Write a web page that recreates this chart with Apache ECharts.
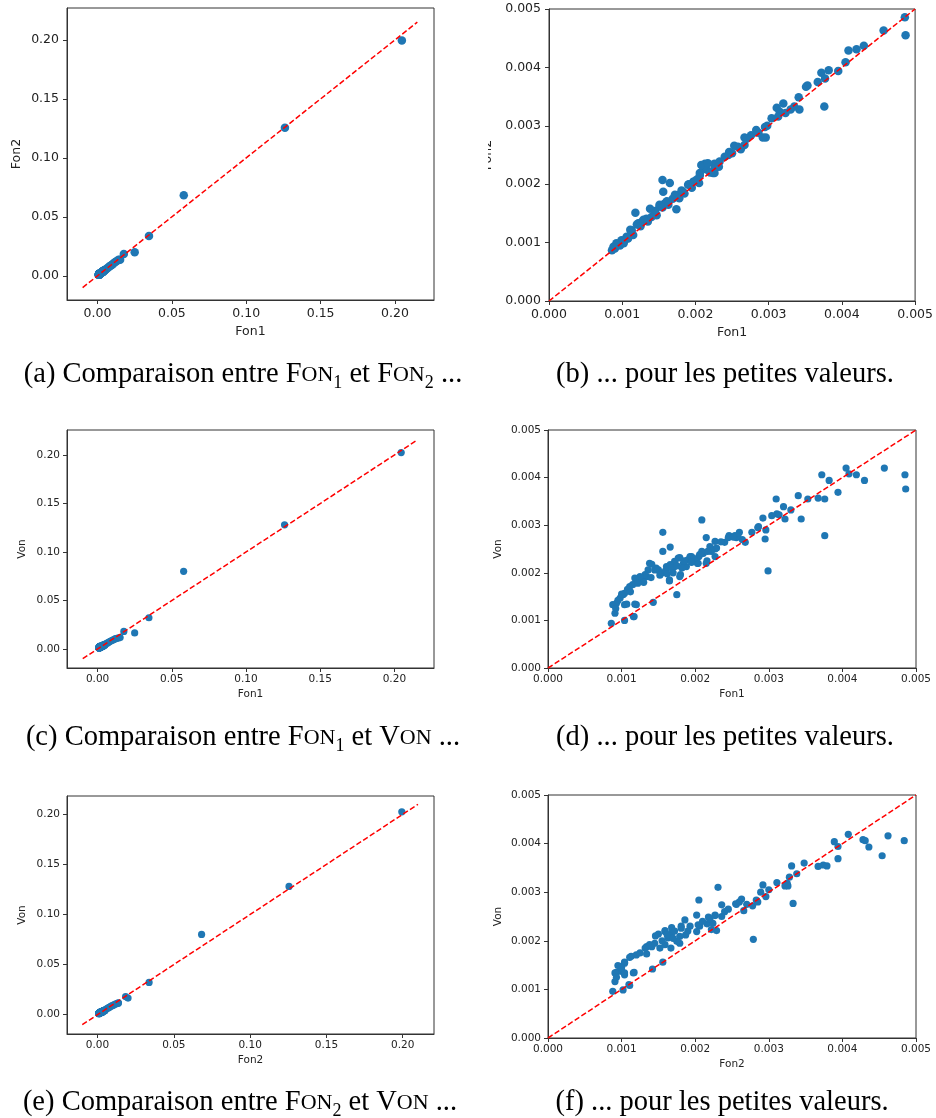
<!DOCTYPE html>
<html><head><meta charset="utf-8">
<script src="https://cdn.jsdelivr.net/npm/echarts@6/dist/echarts.min.js"></script>
<style>html,body{margin:0;padding:0;background:#fff}#c{width:936px;height:1118px}</style>
</head><body><div id="c"></div>
<script>
// ---- data ----
// large values: one entry per item, Fon1 / Fon2 / Von
const fon1Large = [0.2046,0.1260,0.0580,0.0346,0.0250,0.0177,0.0152,0.0142,0.0130,0.0120,0.0110,0.0102,0.0093,0.0085,0.0078,0.0070,0.0062,0.0055];
const fon2Large = [0.1994,0.1255,0.0682,0.0338,0.0200,0.0184,0.0137,0.0136,0.0126,0.0117,0.0108,0.0099,0.0090,0.0083,0.0076,0.0068,0.0060,0.0054];
const vonLarge  = [0.2025,0.1280,0.0801,0.0322,0.0166,0.0181,0.0118,0.0115,0.0110,0.0106,0.0098,0.0092,0.0085,0.0079,0.0072,0.0065,0.0059,0.0053];

// small values (panels b, d, f), pairs [x, y]
const smallFon1Fon2 = [
[0.00486,0.00486],[0.00487,0.00455],[0.00457,0.00463],[0.00430,0.00437],[0.00420,0.00431],[0.00409,0.00429],[0.00405,0.00409],[0.00395,0.00394],[0.00382,0.00395],[0.00372,0.00391],[0.00377,0.00381],[0.00367,0.00375],[0.00376,0.00333],[0.00353,0.00369],[0.00351,0.00367],[0.00341,0.00349],[0.00342,0.00328],[0.00330,0.00328],[0.00320,0.00338],[0.00311,0.00331],[0.00315,0.00324],[0.00323,0.00322],[0.00304,0.00313],[0.00295,0.00298],[0.00296,0.00280],[0.00292,0.00280],[0.00283,0.00293],[0.00276,0.00284],[0.00267,0.00280],[0.00267,0.00267],[0.00258,0.00264],[0.00253,0.00266],[0.00246,0.00255],[0.00240,0.00247],[0.00226,0.00235],[0.00226,0.00219],[0.00213,0.00235],[0.00210,0.00231],[0.00215,0.00225],[0.00206,0.00215],[0.00205,0.00202],[0.00197,0.00204],[0.00191,0.00200],[0.00183,0.00187],[0.00176,0.00181],[0.00174,0.00157],[0.00169,0.00175],[0.00165,0.00202],[0.00155,0.00207],[0.00156,0.00187],[0.00158,0.00167],[0.00151,0.00162],[0.00145,0.00154],[0.00138,0.00158],[0.00147,0.00147],[0.00133,0.00141],[0.00126,0.00135],[0.00122,0.00133],[0.00118,0.00151],[0.00113,0.00121],[0.00115,0.00113],[0.00106,0.00110],[0.00099,0.00104],[0.00092,0.00099],[0.00088,0.00093],[0.00086,0.00087],[0.00097,0.00095],[0.00104,0.00105],
[0.00111,0.00122],[0.00120,0.00131],[0.00129,0.00139],[0.00145,0.00150],[0.00151,0.00165],[0.00161,0.00171],[0.00172,0.00182],[0.00181,0.00189],[0.00190,0.00199],[0.00199,0.00205],[0.00206,0.00219],[0.00208,0.00233],[0.00217,0.00236],[0.00224,0.00219],[0.00226,0.00227],[0.00233,0.00239],[0.00245,0.00250],[0.00100,0.00102],[0.00095,0.00098],[0.00090,0.00090],[0.00108,0.00107],[0.00112,0.00114],[0.00125,0.00128],[0.00135,0.00136],[0.00140,0.00144],[0.00155,0.00160],[0.00163,0.00165],[0.00178,0.00176],[0.00185,0.00184],[0.00195,0.00194],[0.00202,0.00208],[0.00220,0.00220],[0.00232,0.00230],[0.00250,0.00253],[0.00262,0.00260],[0.00270,0.00278],[0.00286,0.00288],[0.00298,0.00300],[0.00313,0.00316],[0.00335,0.00333],[0.00093,0.00096],[0.00102,0.00099]
];
const smallFon1Von = [
[0.00457,0.00420],[0.00485,0.00406],[0.00486,0.00376],[0.00405,0.00420],[0.00409,0.00408],[0.00419,0.00406],[0.00430,0.00394],[0.00394,0.00369],[0.00382,0.00394],[0.00372,0.00406],[0.00376,0.00355],[0.00367,0.00357],[0.00376,0.00278],[0.00353,0.00355],[0.00340,0.00362],[0.00344,0.00313],[0.00330,0.00332],[0.00320,0.00339],[0.00322,0.00313],[0.00310,0.00355],[0.00311,0.00324],[0.00304,0.00320],[0.00292,0.00315],[0.00296,0.00290],[0.00295,0.00271],[0.00299,0.00204],[0.00286,0.00297],[0.00277,0.00285],[0.00268,0.00264],[0.00260,0.00285],[0.00256,0.00274],[0.00246,0.00278],[0.00240,0.00264],[0.00227,0.00266],[0.00227,0.00250],[0.00215,0.00274],[0.00209,0.00311],[0.00215,0.00220],[0.00220,0.00255],[0.00211,0.00241],[0.00205,0.00234],[0.00203,0.00220],[0.00193,0.00234],[0.00190,0.00227],[0.00184,0.00220],[0.00177,0.00231],[0.00180,0.00196],[0.00175,0.00154],[0.00172,0.00213],[0.00166,0.00254],[0.00165,0.00185],[0.00156,0.00245],[0.00156,0.00285],[0.00161,0.00213],[0.00150,0.00206],[0.00145,0.00206],[0.00138,0.00220],[0.00143,0.00138],[0.00134,0.00192],[0.00127,0.00187],[0.00120,0.00185],[0.00120,0.00133],[0.00116,0.00108],[0.00111,0.00171],[0.00104,0.00133],[0.00104,0.00100],[0.00102,0.00154],[0.00093,0.00136],[0.00091,0.00115],[0.00088,0.00133],[0.00086,0.00094],[0.00098,0.00147],
[0.00245,0.00274],[0.00254,0.00278],[0.00229,0.00252],[0.00209,0.00245],[0.00195,0.00234],[0.00179,0.00232],[0.00172,0.00224],[0.00166,0.00217],[0.00147,0.00210],[0.00141,0.00218],[0.00136,0.00206],[0.00132,0.00196],[0.00125,0.00192],[0.00118,0.00189],[0.00104,0.00157],[0.00107,0.00134],[0.00118,0.00134],[0.00117,0.00108],[0.00165,0.00183],[0.00179,0.00192],[0.00188,0.00213],[0.00204,0.00220],[0.00216,0.00225],[0.00227,0.00234],[0.00206,0.00238],
[0.00155,0.00200],[0.00160,0.00205],[0.00168,0.00210],[0.00170,0.00200],[0.00175,0.00215],[0.00162,0.00198],[0.00152,0.00195],[0.00130,0.00180],[0.00115,0.00175],[0.00108,0.00165],[0.00100,0.00155],[0.00095,0.00142],[0.00092,0.00125],[0.00112,0.00160],[0.00122,0.00178],[0.00140,0.00190],[0.00185,0.00225],[0.00198,0.00230],[0.00222,0.00245],[0.00235,0.00265],[0.00264,0.00270],[0.00258,0.00278],[0.00252,0.00275],[0.00285,0.00295],[0.00314,0.00322],[0.00217,0.00245],[0.00195,0.00222],[0.00182,0.00210]
];
const smallFon2Von = [
[0.00484,0.00406],[0.00462,0.00416],[0.00454,0.00375],[0.00436,0.00393],[0.00428,0.00408],[0.00431,0.00406],[0.00408,0.00419],[0.00394,0.00394],[0.00394,0.00369],[0.00389,0.00404],[0.00379,0.00354],[0.00374,0.00356],[0.00367,0.00353],[0.00348,0.00360],[0.00338,0.00338],[0.00331,0.00354],[0.00328,0.00331],[0.00333,0.00277],[0.00326,0.00313],[0.00322,0.00313],[0.00311,0.00320],[0.00292,0.00315],[0.00289,0.00300],[0.00296,0.00291],[0.00279,0.00203],[0.00278,0.00272],[0.00283,0.00284],[0.00266,0.00262],[0.00263,0.00286],[0.00255,0.00276],[0.00245,0.00265],[0.00236,0.00274],[0.00231,0.00310],[0.00236,0.00250],[0.00229,0.00221],[0.00227,0.00253],[0.00218,0.00249],[0.00216,0.00235],[0.00222,0.00223],[0.00205,0.00284],[0.00202,0.00253],[0.00206,0.00230],[0.00202,0.00219],[0.00193,0.00230],[0.00186,0.00243],[0.00187,0.00212],[0.00179,0.00195],[0.00181,0.00230],[0.00168,0.00216],[0.00167,0.00185],[0.00159,0.00219],[0.00156,0.00156],[0.00146,0.00210],[0.00152,0.00185],[0.00141,0.00188],[0.00142,0.00142],[0.00134,0.00188],[0.00134,0.00173],[0.00120,0.00171],[0.00113,0.00168],[0.00117,0.00135],[0.00110,0.00110],[0.00102,0.00099],[0.00104,0.00156],[0.00100,0.00137],[0.00093,0.00135],[0.00091,0.00116],[0.00088,0.00096],[0.00098,0.00147],[0.00104,0.00130],
[0.00256,0.00275],[0.00227,0.00252],[0.00224,0.00236],[0.00204,0.00233],[0.00181,0.00226],[0.00168,0.00227],[0.00159,0.00221],[0.00163,0.00206],[0.00179,0.00209],[0.00175,0.00199],[0.00159,0.00192],[0.00138,0.00192],[0.00132,0.00185],[0.00111,0.00166],[0.00104,0.00154],[0.00095,0.00149],[0.00091,0.00134],[0.00111,0.00108],[0.00116,0.00134],[0.00104,0.00134],[0.00150,0.00214],
[0.00145,0.00195],[0.00155,0.00200],[0.00170,0.00205],[0.00125,0.00175],[0.00100,0.00145],[0.00093,0.00125],[0.00190,0.00220],[0.00210,0.00240],[0.00220,0.00245],[0.00240,0.00260],[0.00260,0.00280],[0.00270,0.00275],[0.00285,0.00280],[0.00300,0.00305],[0.00325,0.00318],[0.00172,0.00220],[0.00162,0.00212]
];

// reference line y = x endpoints
const diagAC = [-0.01, 0.215];
const diagE  = [-0.01, 0.21];
const diagSmall = [0, 0.005];

const ticksLarge = [0, 0.05, 0.10, 0.15, 0.20];
const ticksSmall = [0, 0.001, 0.002, 0.003, 0.004, 0.005];

// ---- helpers ----
const zip = (a, b) => a.map((v, i) => [v, b[i]]);
const dataA = zip(fon1Large, fon2Large).concat(smallFon1Fon2);
const dataC = zip(fon1Large, vonLarge).concat(smallFon1Von);
const dataE = zip(fon2Large, vonLarge).concat(smallFon2Von);

const AX = '#333';
function mkAxis(gi, min, max, ticks, dec, name, gap, fs, margin) {
  return {
    type: 'value', gridIndex: gi, min: min, max: max,
    axisLine: { show: true, onZero: false, lineStyle: { color: AX, width: 1 } },
    axisTick: { show: true, length: 4, lineStyle: { color: AX }, customValues: ticks },
    axisLabel: { customValues: ticks, formatter: v => v.toFixed(dec), fontSize: fs, color: '#222',
                 fontFamily: 'DejaVu Sans', margin: margin, showMinLabel: true, showMaxLabel: true },
    splitLine: { show: false },
    name: name, nameLocation: 'middle', nameGap: gap,
    nameTextStyle: { fontSize: fs, color: '#222', fontFamily: 'DejaVu Sans' }
  };
}

const grids = [
  { left: 67, top: 8, width: 367, height: 292 },
  { left: 549, top: 9, width: 367, height: 292 },
  { left: 67, top: 430, width: 367, height: 238 },
  { left: 548, top: 430, width: 368, height: 238 },
  { left: 67, top: 796, width: 367, height: 238 },
  { left: 548, top: 795, width: 368, height: 243 }
].map(g => Object.assign(g, { show: true, borderColor: AX, borderWidth: 1, containLabel: false }));

const xAxes = [
  mkAxis(0, -0.0205, 0.2262, ticksLarge, 2, 'Fon1', 25, 12.5, 7),
  mkAxis(1, 0, 0.005, ticksSmall, 3, 'Fon1', 25, 12.5, 7),
  mkAxis(2, -0.0206, 0.2267, ticksLarge, 2, 'Fon1', 21, 10.5, 6),
  mkAxis(3, 0, 0.005, ticksSmall, 3, 'Fon1', 21, 10.5, 6),
  mkAxis(4, -0.020, 0.2205, ticksLarge, 2, 'Fon2', 21, 10.5, 6),
  mkAxis(5, 0, 0.005, ticksSmall, 3, 'Fon2', 21, 10.5, 6)
];
const yAxes = [
  mkAxis(0, -0.0205, 0.227, ticksLarge, 2, 'Fon2', 44, 12.5, 8),
  mkAxis(1, 0, 0.005, ticksSmall, 3, 'Fon2', 55, 12.5, 8),
  mkAxis(2, -0.0196, 0.2258, ticksLarge, 2, 'Von', 39, 10.5, 7),
  mkAxis(3, 0, 0.005, ticksSmall, 3, 'Von', 44, 10.5, 7),
  mkAxis(4, -0.0193, 0.2183, ticksLarge, 2, 'Von', 39, 10.5, 7),
  mkAxis(5, 0, 0.005, ticksSmall, 3, 'Von', 44, 10.5, 7)
];

const panels = [
  { data: dataA, diag: diagAC, size: 8.5 },
  { data: smallFon1Fon2, diag: diagSmall, size: 8.5 },
  { data: dataC, diag: diagAC, size: 7.2 },
  { data: smallFon1Von, diag: diagSmall, size: 7.2 },
  { data: dataE, diag: diagE, size: 7.2 },
  { data: smallFon2Von, diag: diagSmall, size: 7.2 }
];
const series = [];
panels.forEach((p, i) => {
  series.push({ type: 'scatter', xAxisIndex: i, yAxisIndex: i, data: p.data, symbolSize: p.size,
    itemStyle: { color: '#1f77b4', opacity: 1 }, clip: true, z: 2, silent: true });
  series.push({ type: 'line', xAxisIndex: i, yAxisIndex: i, data: [[p.diag[0], p.diag[0]], [p.diag[1], p.diag[1]]],
    symbol: 'none', lineStyle: { color: '#ff0000', width: 1.5, type: [5.5, 2.5] }, clip: true, z: 3, silent: true });
});

const CF = 'Liberation Serif';
const capRich = {
  sc: { fontFamily: CF, fontSize: 28.5, fill: '#000', lineHeight: 34 },
  scs: { fontFamily: CF, fontSize: 22, fill: '#000', verticalAlign: 'middle' },
  sub: { fontFamily: CF, fontSize: 18, fill: '#000', verticalAlign: 'bottom', lineHeight: 19 }
};
function cap(x, y, text) {
  return { type: 'text', x: x, y: y, z: 100, silent: true,
    style: { text: text, fontFamily: CF, fontSize: 28.5, fill: '#000', align: 'center', verticalAlign: 'middle', lineHeight: 34, rich: capRich } };
}
const graphic = [
  { type: 'rect', shape: { x: 440, y: 0, width: 48, height: 335 }, style: { fill: '#fff' }, z: 100, silent: true },
  cap(243, 375, '(a) Comparaison entre {sc|F}{scs|ON}{sub|1} et {sc|F}{scs|ON}{sub|2} ...'),
  cap(725, 375, '(b) ... pour les petites valeurs.'),
  cap(243, 738, '(c) Comparaison entre {sc|F}{scs|ON}{sub|1} et {sc|V}{scs|ON} ...'),
  cap(725, 738, '(d) ... pour les petites valeurs.'),
  cap(240, 1103, '(e) Comparaison entre {sc|F}{scs|ON}{sub|2} et {sc|V}{scs|ON} ...'),
  cap(722, 1103, '(f) ... pour les petites valeurs.')
];

const chart = echarts.init(document.getElementById('c'), null, { renderer: 'canvas' });
chart.setOption({
  animation: false,
  backgroundColor: '#fff',
  grid: grids, xAxis: xAxes, yAxis: yAxes, series: series, graphic: graphic
});
</script></body></html>
